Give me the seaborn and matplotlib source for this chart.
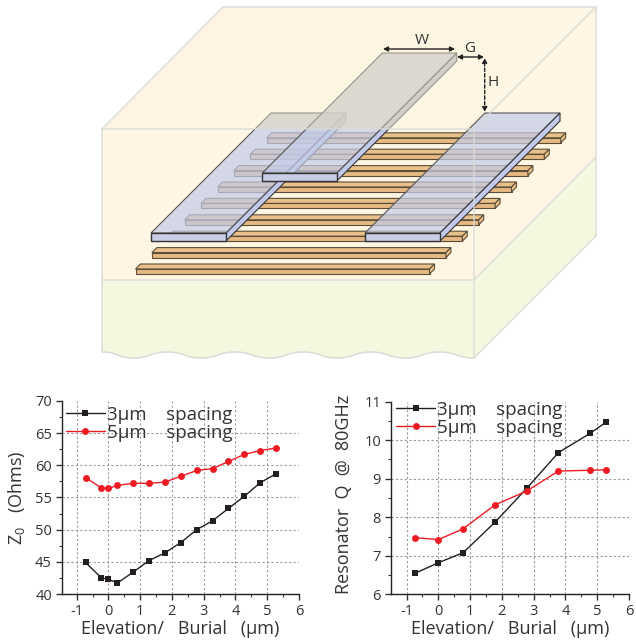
import matplotlib
matplotlib.use("Agg")
import matplotlib.pyplot as plt
import seaborn as sns
from matplotlib.patches import Polygon, PathPatch, Rectangle
from matplotlib.path import Path

# ---- chart data ----
z0_x_3um = [-0.72, -0.22, 0.0, 0.28, 0.78, 1.28, 1.78, 2.28, 2.78, 3.28, 3.78, 4.28, 4.78, 5.28]
z0_y_3um = [44.9, 42.5, 42.3, 41.7, 43.4, 45.2, 46.4, 48.0, 50.0, 51.4, 53.3, 55.2, 57.3, 58.7]
z0_x_5um = [-0.72, -0.22, 0.0, 0.28, 0.78, 1.28, 1.78, 2.28, 2.78, 3.28, 3.78, 4.28, 4.78, 5.28]
z0_y_5um = [58.1, 56.5, 56.4, 56.9, 57.2, 57.2, 57.4, 58.3, 59.2, 59.5, 60.6, 61.7, 62.3, 62.7]
q_x = [-0.72, 0.0, 0.78, 1.78, 2.78, 3.78, 4.78, 5.28]
q_y_3um = [6.55, 6.82, 7.08, 7.87, 8.75, 9.68, 10.18, 10.47]
q_y_5um = [7.47, 7.42, 7.70, 8.32, 8.68, 9.20, 9.22, 9.23]
x_ticks = [-1, 0, 1, 2, 3, 4, 5, 6]
z0_ticks = [40, 45, 50, 55, 60, 65, 70]
q_ticks = [6, 7, 8, 9, 10, 11]
label_3um = "3\u00b5m    spacing"
label_5um = "5\u00b5m    spacing"
x_label = "Elevation/   Burial   (\u00b5m)"

# ---- illustration geometry (pixels) ----
block_top = [(102, 129), (223, 7), (596, 7), (474, 129)]
block_front = [(102, 129), (474, 129), (474, 280), (102, 280)]
block_side = [(474, 129), (596, 7), (596, 157), (474, 280)]
sub_side = [(474, 280), (596, 157), (596, 236), (474, 358)]
wave_pts = [(102, 352), (133, 358), (167, 352), (201, 358), (235, 352), (269, 358),
            (303, 352), (337, 358), (371, 352), (405, 358), (439, 352), (474, 358)]
strip_count = 9
strip_origin = (135.5, 269)
strip_step = 16.4
strip_len = 294
strip_depth = 5
plates = [  # front-left x, front y, width, back offset
    (151, 233, 75, 120),
    (365, 233, 75, 120),
    (262.3, 173, 74.5, 120),
]
plate_thick = 8

CREAM = "#FEF6E3"
GREEN = "#F5F7DF"
EDGE = "#DADAD8"
TAN = "#EAC08A"
TAN_EDGE = "#5A4E3A"
DARK = "#333333"

sns.set_theme(style="ticks")
plt.rcParams["font.family"] = ["Open Sans", "DejaVu Sans"]
plt.rcParams["mathtext.default"] = "regular"
plt.rcParams["axes.unicode_minus"] = False
plt.rcParams["text.color"] = DARK
plt.rcParams["axes.labelcolor"] = DARK
plt.rcParams["xtick.color"] = DARK
plt.rcParams["ytick.color"] = DARK

W, H = 636, 642
fig = plt.figure(figsize=(W / 100, H / 100), dpi=100, facecolor="white")

# ---- illustration ----
art = fig.add_axes([0, 0, 1, 1], zorder=0)
art.set_xlim(0, W)
art.set_ylim(H, 0)
art.axis("off")


def poly(pts, fc="none", ec="none", lw=0.8, alpha=None, z=1, clip=None):
    p = Polygon(pts, closed=True, facecolor=fc, edgecolor=ec, linewidth=lw, alpha=alpha,
                zorder=z, joinstyle="miter")
    art.add_patch(p)
    if clip is not None:
        r = Rectangle((0, clip[0]), W, clip[1] - clip[0], transform=art.transData)
        p.set_clip_path(r)
    return p


poly(block_top, CREAM, z=1)
poly(block_front, CREAM, z=1)
poly(block_side, CREAM, z=1)
poly(sub_side, GREEN, z=1)

codes = [Path.MOVETO]
verts = [(102, 280), wave_pts[0]]
codes.append(Path.LINETO)
for a, b in zip(wave_pts[:-1], wave_pts[1:]):
    mx = (a[0] + b[0]) / 2
    verts += [(mx, a[1]), (mx, b[1]), b]
    codes += [Path.CURVE4] * 3
verts += [(474, 280), (102, 280)]
codes += [Path.LINETO, Path.CLOSEPOLY]
art.add_patch(PathPatch(Path(verts, codes), facecolor=GREEN, edgecolor="none", zorder=1))
wave_path = Path(verts[1:-2], codes[:1] + codes[2:-2])
art.add_patch(PathPatch(wave_path, facecolor="none", edgecolor=EDGE, lw=1.1, zorder=2))

for k in range(strip_count):
    x = strip_origin[0] + strip_step * k
    y = strip_origin[1] - strip_step * k
    d = strip_depth
    poly([(x, y), (x + d, y - d), (x + strip_len + d, y - d), (x + strip_len, y)], TAN, TAN_EDGE, z=3)
    poly([(x, y), (x + strip_len, y), (x + strip_len, y + d), (x, y + d)], "#E6B982", TAN_EDGE, z=3)
    poly([(x + strip_len, y), (x + strip_len + d, y - d), (x + strip_len + d, y),
          (x + strip_len, y + d)], TAN, TAN_EDGE, z=3)

blue = (196 / 255, 204 / 255, 231 / 255)
grey = (212 / 255, 209 / 255, 203 / 255)
for i, (x, y, w, b) in enumerate(plates):
    z = 4 + i
    top = [(x, y), (x + b, y - b), (x + b + w, y - b), (x + w, y)]
    side = [(x + w, y), (x + w + b, y - b), (x + w + b, y - b + plate_thick), (x + w, y + plate_thick)]
    front = [(x, y), (x + w, y), (x + w, y + plate_thick), (x, y + plate_thick)]
    if i == 1:
        poly(top, blue, alpha=0.72, z=z)
        poly(top, "none", "#555555", z=z)
        poly(side, "#C3C9EA", "#333333", z=z)
    else:
        poly(side, "#D2D0C8", "#98958A", z=z, clip=(0, 129))
        poly(side, "#C3C9EA", "#333333", z=z, clip=(129, 400))
        poly(top, grey, alpha=0.8, z=z, clip=(0, 129))
        poly(top, blue, alpha=0.72, z=z, clip=(129, 400))
        poly(top, "none", "#98958A", z=z, clip=(0, 129))
        poly(top, "none", "#555555", z=z, clip=(129, 400))
    poly(front, "#C9CDE6", "#333333", lw=1.0, z=z)

for seg in ([(102, 129), (474, 129)], [(474, 129), (596, 7)], [(474, 129), (474, 280)],
            [(102, 280), (474, 280)], [(474, 280), (596, 157)], [(223, 7), (596, 7)],
            [(102, 129), (223, 7)], [(596, 7), (596, 236)], [(102, 129), (102, 352)],
            [(474, 280), (474, 358)], [(474, 358), (596, 236)]):
    art.plot(*zip(*seg), color=EDGE, lw=1.1, alpha=0.85, zorder=8, solid_capstyle="round")

arrow = dict(arrowstyle="<|-|>", color="#222222", lw=1.0, shrinkA=0, shrinkB=0, mutation_scale=7)
art.annotate("", (383, 49), (455, 49), arrowprops=arrow, zorder=9)
art.annotate("", (457, 57), (484, 57), arrowprops=arrow, zorder=9)
art.annotate("", (484.7, 58), (484.7, 112), arrowprops=dict(arrow, linestyle=(0, (2.5, 1.5))), zorder=9)
art.text(422, 40, "W", fontsize=11, ha="center", va="center", zorder=9)
art.text(470, 48, "G", fontsize=11, ha="center", va="center", zorder=9)
art.text(493, 83, "H", fontsize=11, ha="center", va="center", zorder=9)


# ---- charts ----
def axes_px(x0, x1, y_top, y_bot):
    return fig.add_axes([x0 / W, 1 - y_bot / H, (x1 - x0) / W, (y_bot - y_top) / H], zorder=2, facecolor="none")


def panel(ax, xa, ya, xb, yb, xlim, yticks, minor_y, ylabel, legend_anchor):
    sns.lineplot(x=xa, y=ya, ax=ax, color="#231F20", marker="s", markersize=4.5, lw=1.0,
                 markeredgewidth=0, estimator=None, sort=False, label=label_3um)
    sns.lineplot(x=xb, y=yb, ax=ax, color="#ED1C24", marker="o", markersize=5, lw=1.0,
                 markeredgewidth=0, estimator=None, sort=False, label=label_5um)
    ax.set_xlim(*xlim)
    ax.set_ylim(yticks[0], yticks[-1])
    ax.set_xticks(x_ticks)
    ax.set_yticks(yticks)
    ax.set_xticks([v + 0.5 for v in x_ticks[:-1]], minor=True)
    ax.set_yticks(minor_y, minor=True)
    ax.grid(True, which="major", color="#999999", lw=0.8, linestyle=(0, (2, 2)))
    ax.yaxis.get_gridlines()[-1].set_visible(False)
    ax.xaxis.get_gridlines()[-1].set_visible(False)
    ax.tick_params(axis="both", which="major", length=4.5, width=1.0, labelsize=10.5, pad=2.5)
    ax.tick_params(axis="both", which="minor", length=2.5, width=0.8)
    sns.despine(ax=ax)
    for s in ("left", "bottom"):
        ax.spines[s].set_linewidth(1.0)
        ax.spines[s].set_color("#231F20")
    ax.set_xlabel(x_label, fontsize=13, labelpad=1)
    ax.set_ylabel(ylabel, fontsize=13)
    ax.legend(loc="upper left", bbox_to_anchor=legend_anchor, bbox_transform=fig.transFigure,
              frameon=False, fontsize=13.5, handlelength=2.1, handletextpad=0.1,
              labelspacing=0.0, borderpad=0, borderaxespad=0)


ax1 = axes_px(61.7, 299, 401, 594)
panel(ax1, z0_x_3um, z0_y_3um, z0_x_5um, z0_y_5um, (-1.47, 6), z0_ticks,
      [v + 2.5 for v in z0_ticks[:-1]], "Z$_0$   (Ohms)", (65.5 / W, 1 - 406 / H))
ax1.yaxis.set_label_coords((27 - 61.7) / (299 - 61.7), 0.5)

ax2 = axes_px(390.7, 629, 401.7, 594.3)
panel(ax2, q_x, q_y_3um, q_x, q_y_5um, (-1.5, 6), q_ticks,
      [v + 0.5 for v in q_ticks[:-1]], "Resonator  Q  @  80GHz", (396 / W, 1 - 401 / H))
ax2.yaxis.set_label_coords((353 - 390.7) / (629 - 390.7), 0.52)

fig.savefig("out.png", dpi=100)
